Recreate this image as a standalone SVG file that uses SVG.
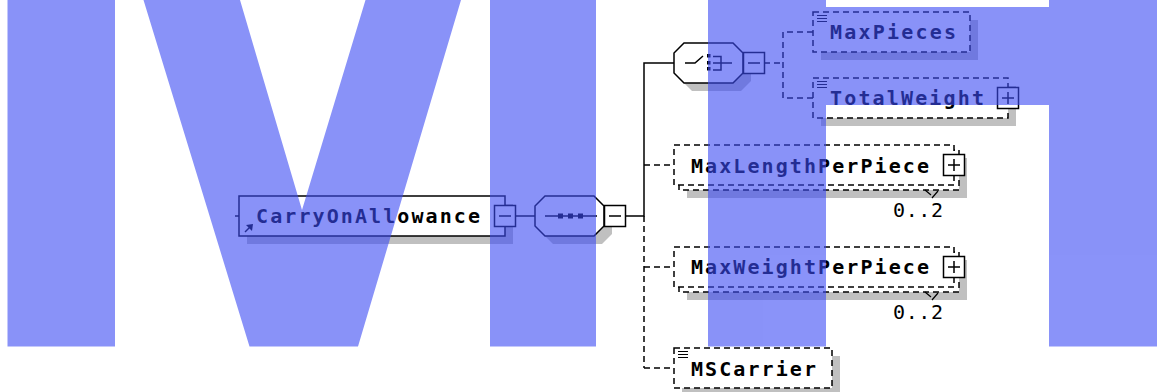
<svg xmlns="http://www.w3.org/2000/svg" width="1157" height="392" viewBox="0 0 1157 392">
<style>
.ln{stroke:#000;stroke-width:1.5;fill:none}
.dash{stroke-dasharray:6 4}
.box{fill:#fff;stroke:#000;stroke-width:1.5}
.dbox{fill:#fff;stroke:#000;stroke-width:1.5;stroke-dasharray:6 4}
.shadow{fill:#c0c0c0}
.lbl{font-family:"DejaVu Sans Mono","Liberation Mono",monospace;font-weight:bold;font-size:20px;fill:#000}
.occ{font-family:"DejaVu Sans Mono","Liberation Mono",monospace;font-size:20px;fill:#000}
.wm{fill:rgb(60,75,245)}
.ico{stroke:#000;stroke-width:1.2;fill:none}
</style>
<rect width="1157" height="392" fill="#fff"/>
<g id="connectors">
<line class="ln" x1="235" y1="216" x2="239" y2="216"/>
<line class="ln" x1="515" y1="216" x2="535" y2="216"/>
<polyline class="ln" points="626,216 644,216 644,63 674,63"/>
<line class="ln dash" x1="644" y1="216" x2="644" y2="368"/>
<line class="ln dash" x1="644" y1="165" x2="674" y2="165"/>
<line class="ln dash" x1="644" y1="267" x2="674" y2="267"/>
<line class="ln dash" x1="644" y1="368" x2="674" y2="368"/>
<line class="ln dash" x1="764" y1="63" x2="783" y2="63"/>
<polyline class="ln dash" points="813,32 783,32 783,98 813,98"/>
</g>
<g id="CarryOnAllowance">
<rect class="shadow" x="247" y="204" width="266" height="40"/>
<rect class="box" x="239" y="196" width="266" height="40"/>
<line class="ln" x1="245" y1="232" x2="250" y2="227"/>
<polygon points="253,224 246,225 252,231" fill="#000"/>
<text class="lbl" x="256" y="222.5" textLength="224" lengthAdjust="spacing">CarryOnAllowance</text>
<rect class="box" x="494.5" y="205.5" width="21" height="21"/>
<line class="ln" x1="499" y1="216" x2="511" y2="216"/>
</g>
<g id="sequence">
<path class="shadow" d="M553,204 H602 L612,214 V234 L602,244 H553 L543,234 V214 Z"/>
<path class="box" d="M545,196 H594 L604,206 V226 L594,236 H545 L535,226 V206 Z"/>
<line class="ln" x1="545" y1="216" x2="597" y2="216"/>
<rect x="558" y="213.5" width="5" height="5" fill="#000"/>
<rect x="568" y="213.5" width="5" height="5" fill="#000"/>
<rect x="578" y="213.5" width="5" height="5" fill="#000"/>
<rect class="box" x="604.5" y="205.5" width="21" height="21"/>
<line class="ln" x1="609" y1="216" x2="621" y2="216"/>
</g>
<g id="choice">
<path class="shadow" d="M692,51 H741 L751,61 V81 L741,91 H692 L682,81 V61 Z"/>
<path class="box" d="M684,43 H733 L743,53 V73 L733,83 H684 L674,73 V53 Z"/>
<polyline class="ln" points="685,63 695,63 703,56"/>
<rect x="707" y="54" width="3.5" height="3.5" fill="#000"/>
<rect x="707" y="61" width="3.5" height="3.5" fill="#000"/>
<rect x="707" y="67" width="3.5" height="3.5" fill="#000"/>
<polyline class="ln" points="713,56.5 721,56.5 721,70 713,70"/>
<line class="ln" x1="713" y1="63" x2="732" y2="63"/>
<rect class="box" x="743.5" y="52.5" width="21" height="21"/>
<line class="ln" x1="748" y1="63" x2="760" y2="63"/>
</g>
<g id="MaxPieces">
<rect class="shadow" x="821" y="20" width="157" height="40"/>
<rect class="dbox" x="813" y="12" width="157" height="40"/>
<path class="ico" d="M817,15.5 H827 M817,18.5 H827 M817,21.5 H827"/>
<text class="lbl" x="830" y="39" textLength="126" lengthAdjust="spacing">MaxPieces</text>
</g>
<g id="TotalWeight">
<rect class="shadow" x="821" y="86" width="195" height="40"/>
<rect class="dbox" x="813" y="78" width="195" height="40"/>
<path class="ico" d="M817,81.5 H827 M817,84.5 H827 M817,87.5 H827"/>
<text class="lbl" x="830" y="104.5" textLength="154" lengthAdjust="spacing">TotalWeight</text>
<rect class="box" x="997.5" y="87.5" width="21" height="21"/>
<path class="ln" d="M1002,98 H1014 M1008,92 V104"/>
</g>
<g id="MaxLengthPerPiece">
<rect class="shadow" x="687" y="158" width="280" height="40"/>
<rect class="dbox" x="679" y="150" width="280" height="40"/>
<rect class="dbox" x="674" y="145" width="280" height="40"/>
<text class="lbl" x="691" y="172.5" textLength="238" lengthAdjust="spacing">MaxLengthPerPiece</text>
<rect class="box" x="943.5" y="154.5" width="21" height="21"/>
<path class="ln" d="M948,165 H960 M954,159 V171"/>
<path class="ico" d="M925,190 L931,195 M932,198 L938,191"/>
<text class="occ" x="893" y="216.5" textLength="50" lengthAdjust="spacing">0..2</text>
</g>
<g id="MaxWeightPerPiece">
<rect class="shadow" x="687" y="260" width="280" height="40"/>
<rect class="dbox" x="679" y="252" width="280" height="40"/>
<rect class="dbox" x="674" y="247" width="280" height="40"/>
<text class="lbl" x="691" y="274" textLength="238" lengthAdjust="spacing">MaxWeightPerPiece</text>
<rect class="box" x="943.5" y="256.5" width="21" height="21"/>
<path class="ln" d="M948,267 H960 M954,261 V273"/>
<path class="ico" d="M925,292 L931,297 M932,300 L938,293"/>
<text class="occ" x="893" y="318.5" textLength="50" lengthAdjust="spacing">0..2</text>
</g>
<g id="MSCarrier">
<rect class="shadow" x="682" y="356" width="158" height="40"/>
<rect class="dbox" x="674" y="348" width="158" height="40"/>
<path class="ico" d="M678,351.5 H688 M678,354.5 H688 M678,357.5 H688"/>
<text class="lbl" x="691" y="375.5" textLength="125" lengthAdjust="spacing">MSCarrier</text>
</g>
<g id="watermark" opacity="0.6">
<rect class="wm" x="7.5" y="0" width="107.5" height="346.5"/>
<polygon class="wm" points="143.5,0 240,0 302,210 365.5,0 461,0 358,346.5 249.5,346.5"/>
<rect class="wm" x="490" y="0" width="106" height="346.5"/>
<rect class="wm" x="708" y="0" width="118" height="346.5"/>
<rect class="wm" x="826" y="7" width="223" height="98"/>
<rect class="wm" x="1049" y="0" width="108" height="346.5"/>
</g>
</svg>
